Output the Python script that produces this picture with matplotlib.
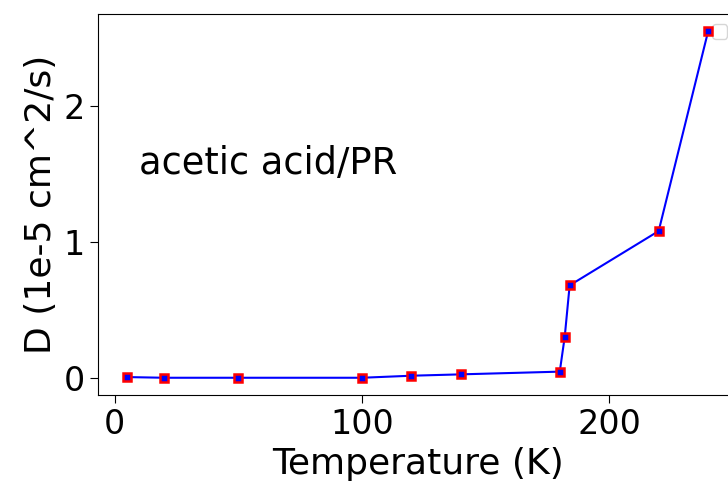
import numpy as np
import matplotlib
matplotlib.use("Agg")
import matplotlib.pyplot as plt

# data
temperature = [5, 20, 50, 100, 120, 140, 180, 182, 184, 220, 240]
diffusion = [0.005, 0.0, 0.0, 0.0, 0.015, 0.025, 0.045, 0.30, 0.68, 1.08, 2.55]

fig = plt.figure(figsize=(7.28, 4.92), dpi=100)
ax = fig.add_axes([0.1346, 0.197, 0.878, 0.7745])
ax.plot(temperature, diffusion, color="blue", linewidth=1.5,
        marker="s", markersize=6, markerfacecolor="blue",
        markeredgecolor="red", markeredgewidth=1.8, zorder=3)
ax.text(10, 1.5, "acetic acid/PR", fontsize=26.5)
ax.set_xlabel("Temperature (K)", fontsize=26)
ax.set_ylabel("D (1e-5 cm^2/s)", fontsize=26)
ax.tick_params(labelsize=24, length=6)
ax.set_xticks([0, 100, 200])
ax.set_yticks([0, 1, 2])
leg = ax.legend(handles=[], loc="upper right", fontsize=14)
leg.set_zorder(2)

fig.savefig("out.png", dpi=100)
